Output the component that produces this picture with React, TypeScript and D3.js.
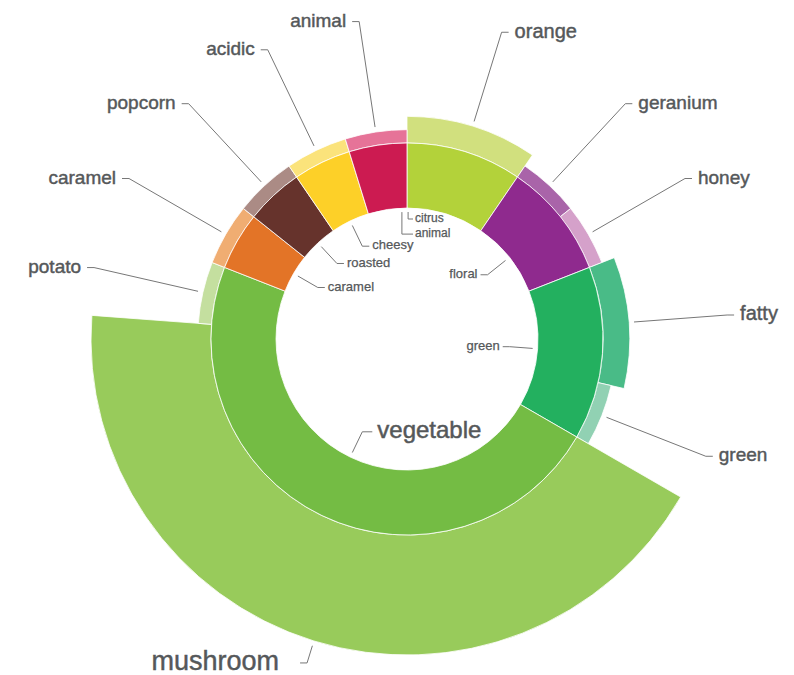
import React from 'react';
import * as d3 from 'd3';

// ---- data ----
const innerNames = ['citrus', 'floral', 'green', 'vegetable', 'caramel', 'roasted', 'cheesy', 'animal'];
const innerValues = [2, 2, 3, 10, 1, 1, 1, 1];
const innerColors = ['#b3d23a', '#8f2a8e', '#23b05f', '#74bc44', '#e37427', '#66332c', '#fdd028', '#cc1b51'];

const outerNames = ['orange', 'geranium', 'honey', 'fatty', 'green', 'mushroom', 'potato', 'caramel', 'popcorn', 'acidic', 'animal'];
const outerParents = ['citrus', 'floral', 'floral', 'green', 'green', 'vegetable', 'vegetable', 'caramel', 'roasted', 'cheesy', 'animal'];
const outerValues = [2, 1, 1, 2, 1, 9, 1, 1, 1, 1, 1];
const outerColors = ['#d1e07e', '#a964a9', '#d5a1ca', '#49bb87', '#91d1b3', '#98cb5b', '#c4df9f', '#f0ad72', '#ab8b85', '#fbe37b', '#e67398'];

// ---- layout / style ----
const W = 794;
const H = 675;
const CX = 407;
const CY = 339;
const R0 = 131;
const R1 = 196;
const TEXT = '#55585a';
const LINE = '#777';
const FONT = '"Liberation Sans", Arial, Helvetica, sans-serif';

// inner labels that were nudged apart to avoid overlap
const innerNudge: Record<string, { angleDeg: number; drop: number }> = {
  citrus: { angleDeg: 0.5, drop: 7 },
  animal: { angleDeg: -2.3, drop: 22 },
};
const outerExtraGap: Record<string, number> = { mushroom: 15 };

function p(a: number, r: number): [number, number] {
  return [CX + r * Math.sin(a), CY - r * Math.cos(a)];
}

export default function App() {
  const total = d3.sum(innerValues);
  const angle = d3.scaleLinear().domain([0, total]).range([0, 2 * Math.PI]);
  const depth = d3.scaleLinear().domain([0, 9]).range([R1, 316]);
  const outerFont = d3.scaleLinear().domain([1, 9]).range([19, 27]);

  let acc = 0;
  const inner = innerNames.map((name, i) => {
    const s = acc;
    acc += innerValues[i];
    return { name, value: innerValues[i], a0: angle(s), a1: angle(acc), color: innerColors[i] };
  });
  acc = 0;
  const outer = outerNames.map((name, i) => {
    const s = acc;
    acc += outerValues[i];
    return {
      name,
      parent: outerParents[i],
      value: outerValues[i],
      a0: angle(s),
      a1: angle(acc),
      r: depth(outerValues[i]),
      color: outerColors[i],
    };
  });

  const arc = d3.arc<any>();
  const line = d3.line();

  return (
    <svg width={W} height={H} style={{ position: 'absolute', left: 0, top: 0 }} fontFamily={FONT}>
      <rect width={W} height={H} fill="#fff" />
      {outer.map((d) => (
        <path
          key={'o' + d.name + d.parent}
          d={arc({ innerRadius: R1, outerRadius: d.r, startAngle: d.a0, endAngle: d.a1 }) as string}
          transform={`translate(${CX},${CY})`}
          fill={d.color}
          stroke="#fff"
          strokeWidth={0.8}
        />
      ))}
      {inner.map((d) => (
        <path
          key={'i' + d.name}
          d={arc({ innerRadius: R0, outerRadius: R1, startAngle: d.a0, endAngle: d.a1 }) as string}
          transform={`translate(${CX},${CY})`}
          fill={d.color}
          stroke="#fff"
          strokeWidth={0.8}
        />
      ))}
      {outer.map((d) => {
        const mid = (d.a0 + d.a1) / 2;
        const right = Math.sin(mid) >= 0;
        const s = p(mid, d.r + 5);
        const e = p(mid, Math.max(321, d.r + 23));
        const h: [number, number] = [e[0] + (right ? 7 : -7), e[1]];
        const gap = 6 + (outerExtraGap[d.name] || 0);
        const fs = outerFont(d.value);
        return (
          <g key={'ol' + d.name + d.parent}>
            <path d={line([s, e, h]) as string} fill="none" stroke={LINE} strokeWidth={1} />
            <text
              x={h[0] + (right ? gap : -gap)}
              y={h[1]}
              dy="0.27em"
              textAnchor={right ? 'start' : 'end'}
              fontSize={fs}
              fill={TEXT}
              stroke={TEXT}
              strokeWidth={0.45}
            >
              {d.name}
            </text>
          </g>
        );
      })}
      {inner.map((d) => {
        const mid = (d.a0 + d.a1) / 2;
        const fs = d.value >= 5 ? 24 : 13;
        const nudge = innerNudge[d.name];
        if (nudge) {
          const a = (nudge.angleDeg * Math.PI) / 180;
          const s = p(a, 127);
          const e: [number, number] = [s[0], s[1] + nudge.drop];
          const h: [number, number] = [413, e[1]];
          return (
            <g key={'il' + d.name}>
              <path d={line([s, e, h]) as string} fill="none" stroke={LINE} strokeWidth={1} />
              <text x={h[0] + 2} y={h[1]} dy="0.25em" fontSize={12} fill={TEXT} stroke={TEXT} strokeWidth={0.25}>
                {d.name}
              </text>
            </g>
          );
        }
        const right = Math.sin(mid) >= 0;
        const big = fs > 20;
        const s = p(mid, 126);
        const e = p(mid, 103);
        const hl = big ? 10 : 7;
        const gap = big ? 5 : 3;
        const h: [number, number] = [e[0] + (right ? -hl : hl), e[1]];
        return (
          <g key={'il' + d.name}>
            <path d={line([s, e, h]) as string} fill="none" stroke={LINE} strokeWidth={1} />
            <text
              x={h[0] + (right ? -gap : gap)}
              y={h[1]}
              dy="0.25em"
              textAnchor={right ? 'end' : 'start'}
              fontSize={fs}
              fill={TEXT}
              stroke={TEXT}
              strokeWidth={big ? 0.5 : 0.25}
            >
              {d.name}
            </text>
          </g>
        );
      })}
    </svg>
  );
}
